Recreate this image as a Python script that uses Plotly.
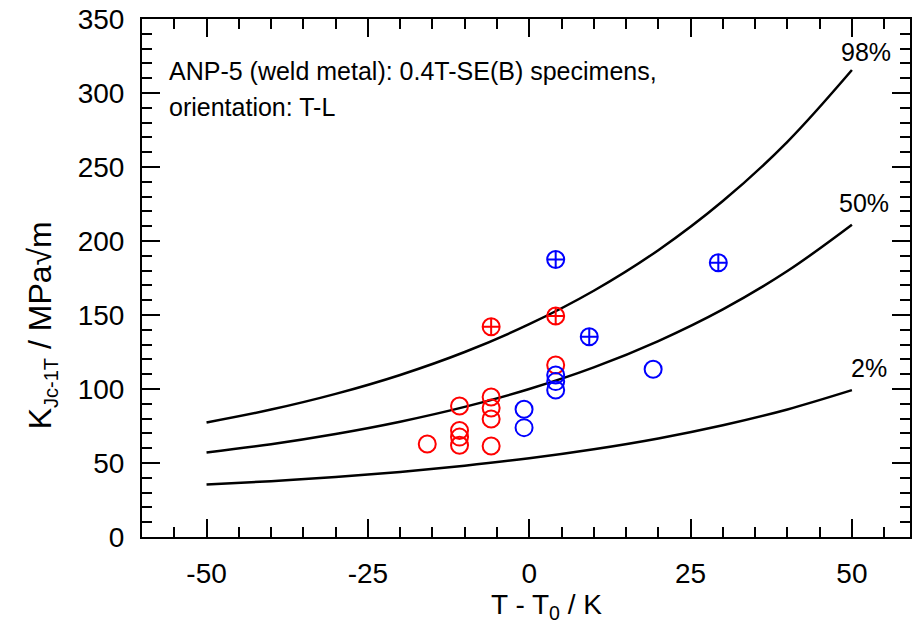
import plotly.graph_objects as go

# Master-curve tolerance bounds (T - T0 in K, K_Jc in MPa*sqrt(m))
curve_T = [-50, -40, -30, -20, -10, 0, 10, 20, 30, 40, 50]
k_98 = [77.4, 86.1, 96.7, 109.5, 125.0, 143.8, 166.4, 193.8, 227.0, 267.0, 315.5]
k_50 = [57.1, 62.7, 69.6, 77.9, 87.9, 100.0, 114.6, 132.4, 153.8, 179.7, 211.0]
k_02 = [35.4, 37.7, 40.6, 44.0, 48.2, 53.2, 59.3, 66.6, 75.5, 86.2, 99.2]
curve_labels = ["98%", "50%", "2%"]
label_T = [52.2, 51.8, 52.7]
label_K = [327.5, 225.5, 114.0]

# Red series (open circles)
red_T = [-15.8, -10.8, -10.8, -10.8, -10.8, -5.9, -5.9, -5.9, -5.9, 4.1]
red_K = [62.8, 88.5, 72.0, 67.5, 62.0, 94.6, 87.2, 79.7, 61.5, 116.2]
# Red series (crossed circles)
redx_T = [-5.9, 4.1]
redx_K = [142.1, 149.3]
# Blue series (open circles)
blue_T = [-0.8, -0.8, 4.1, 4.1, 4.1, 19.2]
blue_K = [86.3, 73.9, 109.5, 105.0, 99.3, 113.3]
# Blue series (crossed circles)
bluex_T = [4.1, 9.3, 29.3]
bluex_K = [187.5, 135.3, 185.3]

x_ticks = [-50, -25, 0, 25, 50]
x_ticktext = ["-50", "-25", "0", "25", "50"]
y_ticks = [0, 50, 100, 150, 200, 250, 300, 350]
y_ticktext = ["0", "50", "100", "150", "200", "250", "300", "350"]

FONT = "Liberation Sans, Arial, sans-serif"
RED = "#ff0000"
BLUE = "#0000ff"

fig = go.Figure()
for ys in (k_98, k_50, k_02):
    fig.add_trace(go.Scatter(x=curve_T, y=ys, mode="lines",
                             line=dict(color="black", width=2.5, shape="spline"),
                             showlegend=False, hoverinfo="skip"))

def pts(xs, ys, color, sym):
    fig.add_trace(go.Scatter(x=xs, y=ys, mode="markers", showlegend=False,
                             marker=dict(symbol=sym, size=17, color=color,
                                         line=dict(color=color, width=2))))

pts(red_T, red_K, RED, "circle-open")
pts(redx_T, redx_K, RED, "circle-cross-open")
pts(blue_T, blue_K, BLUE, "circle-open")
pts(bluex_T, bluex_K, BLUE, "circle-cross-open")

for lab, tx, ky in zip(curve_labels, label_T, label_K):
    fig.add_annotation(x=tx, y=ky, text=lab, showarrow=False,
                       font=dict(family=FONT, size=25, color="black"),
                       xanchor="center", yanchor="middle")

L, R, T, B = 142, 0, 19, 92
W, H = 912, 629
pw, ph = W - L - R, H - T - B

def px(xp):
    return (xp - L) / pw

def py(yp):
    return (H - B - yp) / ph

fig.add_annotation(xref="paper", yref="paper", x=px(167), y=py(71),
                   text="ANP-5 (weld metal): 0.4T-SE(B) specimens,",
                   showarrow=False, xanchor="left", yanchor="middle",
                   font=dict(family=FONT, size=25, color="black"))
fig.add_annotation(xref="paper", yref="paper", x=px(167), y=py(107),
                   text="orientation: T-L",
                   showarrow=False, xanchor="left", yanchor="middle",
                   font=dict(family=FONT, size=25, color="black"))

# axis titles
fig.add_annotation(xref="paper", yref="paper", x=px(548), y=py(606),
                   text="T - T<sub>0</sub> / K", showarrow=False,
                   xanchor="center", yanchor="middle",
                   font=dict(family=FONT, size=28, color="black"))
fig.add_annotation(xref="paper", yref="paper", x=px(42), y=py(325),
                   text="K<sub><span style='font-size:20px'>Jc-1T</span></sub> / MPa√m",
                   showarrow=False,
                   textangle=-90, xanchor="center", yanchor="middle",
                   font=dict(family=FONT, size=32, color="black"))

axis_common = dict(showline=True, linecolor="black", linewidth=2, mirror="ticks",
                   ticks="inside", ticklen=18, tickwidth=2, tickcolor="black",
                   showgrid=False, zeroline=False,
                   tickfont=dict(family=FONT, size=28, color="black"))

fig.update_xaxes(range=[-60, 59.0], tickvals=x_ticks, ticktext=x_ticktext,
                 minor=dict(dtick=5, ticks="inside", ticklen=10, tickwidth=2,
                            tickcolor="black", showgrid=False),
                 ticklabelstandoff=10, **axis_common)
fig.update_yaxes(range=[0, 350], tickvals=y_ticks, ticktext=y_ticktext,
                 minor=dict(dtick=10, ticks="inside", ticklen=10, tickwidth=2,
                            tickcolor="black", showgrid=False),
                 ticklabelstandoff=10, **axis_common)

fig.update_layout(width=W, height=H, margin=dict(l=L, r=R, t=T, b=B),
                  plot_bgcolor="white", paper_bgcolor="white", showlegend=False)

fig.write_html("out.html")
